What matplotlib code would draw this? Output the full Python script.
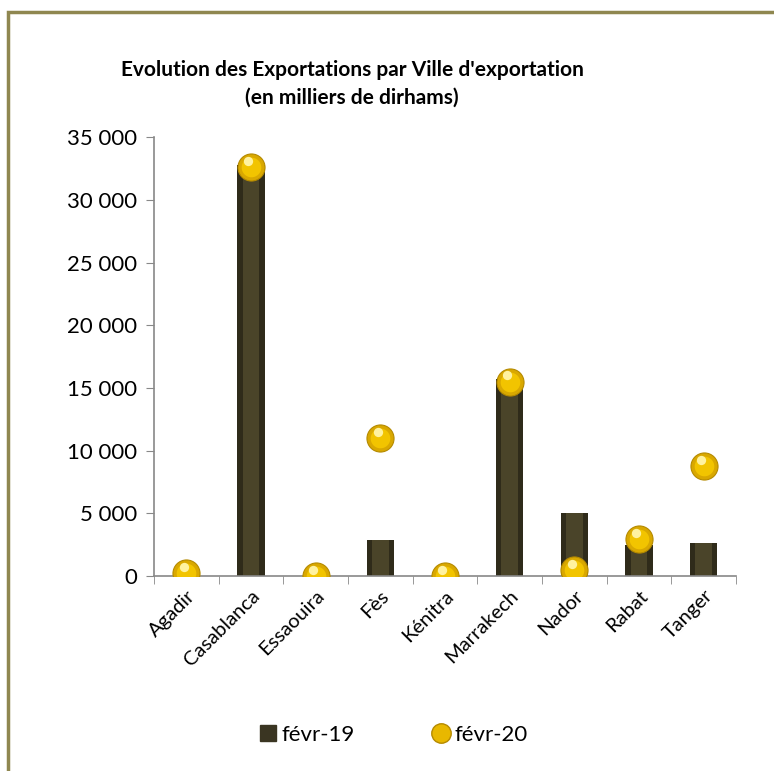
import matplotlib
matplotlib.use('Agg')
import matplotlib.pyplot as plt
from matplotlib.lines import Line2D
from matplotlib.patches import Rectangle
import numpy as np

villes = ['Agadir', 'Casablanca', 'Essaouira', 'Fès', 'Kénitra',
          'Marrakech', 'Nador', 'Rabat', 'Tanger']
fevr19 = [100, 32750, 30, 2850, 20, 15750, 5000, 2480, 2600]   # barres
fevr20 = [200, 32600, 0, 10980, 0, 15500, 480, 2920, 8780]     # points

plt.rcParams['font.family'] = ['Lato', 'DejaVu Sans']

fig = plt.figure(figsize=(7.74, 7.71), dpi=100)
ax = fig.add_axes([0.199, 0.253, 0.752, 0.569])

x = np.arange(len(villes))
# bars with a lighter core to hint at the gradient
ax.bar(x, fevr19, width=0.42, color='#2f2b1a', zorder=2)
ax.bar(x, fevr19, width=0.26, color='#4a4429', zorder=2)
# gold balls
ax.scatter(x, fevr20, s=380, color='#d9a800', edgecolor='#b58a00', linewidth=0.8, zorder=3)
ax.scatter(x, fevr20, s=200, color='#f2c400', linewidth=0, zorder=4)
ax.scatter(x - 0.04, np.array(fevr20) + 500, s=45, color='#fff2a0', linewidth=0, zorder=5)

ax.set_xlim(-0.5, len(villes) - 0.5)
ax.set_ylim(0, 35000)
ax.set_yticks(range(0, 35001, 5000))
ax.set_yticklabels([f'{v:,}'.replace(',', ' ') for v in range(0, 35001, 5000)], fontsize=16)
ax.set_xticks(x)
ax.set_xticklabels(villes, rotation=45, ha='right', rotation_mode='anchor', fontsize=14.5)
ax.set_xticks(np.arange(-0.5, len(villes)), minor=True)
ax.tick_params(axis='x', which='major', length=0, pad=8)
ax.tick_params(axis='x', which='minor', length=6, color='#888888', direction='out')
ax.tick_params(axis='y', length=6, color='#888888', pad=6)

for s in ['top', 'right']:
    ax.spines[s].set_visible(False)
for s in ['left', 'bottom']:
    ax.spines[s].set_color('#888888')
    ax.spines[s].set_linewidth(1.2)

fig.text(0.455, 0.891, "Evolution des Exportations par Ville d'exportation\n(en milliers de dirhams)",
         ha='center', va='center', multialignment='center',
         fontsize=15, fontweight='bold', linespacing=1.45)

handles = [Line2D([], [], marker='s', linestyle='', markersize=11, color='#3a3522'),
           Line2D([], [], marker='o', linestyle='', markersize=14, color='#e8b800',
                  markeredgecolor='#b58a00')]
fig.legend(handles, ['févr-19', 'févr-20'], loc='center', bbox_to_anchor=(0.507, 0.047),
           ncol=2, frameon=False, fontsize=16, handletextpad=0.1, columnspacing=3.4,
           handlelength=1)

# outer frame (only top/left inside the image)
fig.patches.append(Rectangle((8 / 774, -0.1), 1.2, 1 - 12 / 771 + 0.1, transform=fig.transFigure,
                             fill=False, edgecolor='#8f8750', linewidth=2.5))

fig.savefig('out.png', dpi=100)
